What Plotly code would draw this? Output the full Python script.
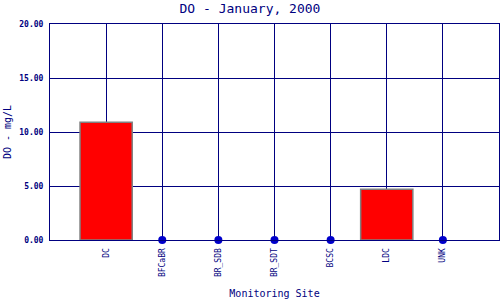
import plotly.graph_objects as go

sites = ["DC", "BFCaBR", "BR_SDB", "BR_SDT", "BCSC", "LDC", "UNK"]
do_values = [10.9, 0, 0, 0, 0, 4.7, 0]
y_ticks = [0, 5, 10, 15, 20]
y_tick_labels = ["0.00", "5.00", "10.00", "15.00", "20.00"]

NAVY = "#000080"
FONT = "DejaVu Sans Mono"

bar_x = [s for s, v in zip(sites, do_values) if v > 0]
bar_y = [v for v in do_values if v > 0]
pt_x = [s for s, v in zip(sites, do_values) if v == 0]
pt_y = [v for v in do_values if v == 0]

fig = go.Figure()
fig.add_trace(go.Bar(x=bar_x, y=bar_y, width=0.93,
                     marker=dict(color="#FF0000", line=dict(color="#808080", width=1.5)),
                     showlegend=False))
fig.add_trace(go.Scatter(x=pt_x, y=pt_y, mode="markers",
                         marker=dict(color="#0000CC", size=8),
                         cliponaxis=False, showlegend=False))

fig.update_layout(
    width=500, height=300,
    margin=dict(l=50, r=1, t=24, b=60),
    paper_bgcolor="white", plot_bgcolor="white",
    title=dict(text="DO - January, 2000", x=0.5, xanchor="center", y=0.972, yanchor="middle",
               font=dict(family=FONT, size=13, color=NAVY)),
    font=dict(family=FONT, color=NAVY),
)
fig.update_xaxes(
    type="category", categoryorder="array", categoryarray=sites,
    range=[-1, 7], showgrid=True, gridcolor=NAVY, gridwidth=1,
    showline=True, linecolor=NAVY, linewidth=1, mirror=True,
    tickangle=-90, tickfont=dict(family=FONT, size=8, color=NAVY),
    ticks="", ticklabelstandoff=4,
    title=dict(text="Monitoring Site", font=dict(family=FONT, size=10, color=NAVY), standoff=13),
)
fig.update_yaxes(
    range=[0, 20], tickvals=y_ticks, ticktext=y_tick_labels,
    showgrid=True, gridcolor=NAVY, gridwidth=1, zeroline=False,
    showline=True, linecolor=NAVY, linewidth=1, mirror=True,
    tickfont=dict(family=FONT, size=8, color=NAVY, weight="bold"),
    ticks="", ticklabelstandoff=4,
    title=dict(text="DO - mg/L", font=dict(family=FONT, size=10, color=NAVY), standoff=5),
)

fig.write_html("out.html")
